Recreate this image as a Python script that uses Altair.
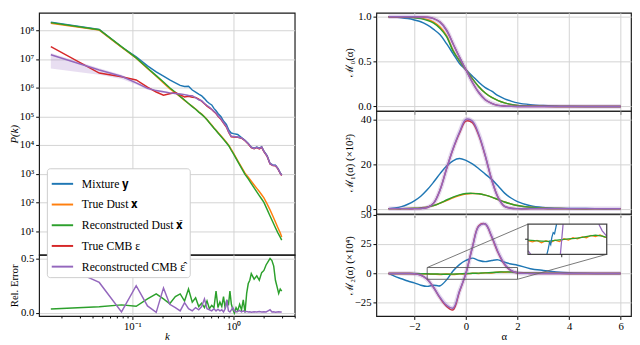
import altair as alt
import pandas as pd

FONT = "Liberation Serif"
BLUE, ORANGE, GREEN, RED, PURPLE = "#1f77b4", "#ff7f0e", "#2ca02c", "#d62728", "#9467bd"

# ---------------- left: power spectra ----------------
K = [0.0156, 0.047, 0.078, 0.109, 0.141, 0.172, 0.203, 0.234, 0.266, 0.297,
     0.328, 0.359, 0.391, 0.422, 0.453, 0.484, 0.516, 0.547, 0.578, 0.609,
     0.641, 0.672, 0.703, 0.75, 0.80, 0.85, 0.90, 0.95, 1.0, 1.1,
     1.2, 1.3, 1.4, 1.5, 1.6, 1.7, 1.8, 1.9, 2.0, 2.15,
     2.3, 2.45, 2.6, 2.75, 2.9, 3.0]
# log10 P(k)
LOG_MIX = [8.28, 8.03, 7.42, 7.08, 6.76, 6.55, 6.40, 6.27, 6.17, 6.08,
           6.04, 6.05, 5.92, 5.85, 5.78, 5.72, 5.62, 5.52, 5.45, 5.40,
           5.28, 5.20, 5.10, 5.00, 4.83, 4.72, 4.52, 4.42, 4.40, 4.37,
           4.26, 4.17, 4.06, 3.93, 3.89, 3.93, 3.89, 3.94, 3.79, 3.63,
           3.36, 3.31, 3.30, 3.19, 3.03, 2.96]
LOG_DUST = [8.25, 8.01, 7.41, 7.03, 6.67, 6.40, 6.17, 5.97, 5.82, 5.69,
            5.56, 5.45, 5.35, 5.26, 5.16, 5.08, 4.99, 4.89, 4.79, 4.70,
            4.60, 4.52, 4.44, 4.33, 4.21, 4.10, 3.99, 3.85, 3.72, 3.46,
            3.23, 3.02, 2.88, 2.74, 2.61, 2.49, 2.38, 2.27, 2.16, 1.95,
            1.74, 1.53, 1.32, 1.12, 0.94, 0.80]
LOG_DUST_REC = [8.27, 8.02, 7.43, 7.04, 6.69, 6.42, 6.20, 6.00, 5.84, 5.70,
                5.57, 5.45, 5.34, 5.25, 5.15, 5.07, 4.98, 4.88, 4.78, 4.68,
                4.59, 4.51, 4.42, 4.31, 4.19, 4.08, 3.97, 3.82, 3.69, 3.43,
                3.20, 2.98, 2.82, 2.66, 2.51, 2.37, 2.24, 2.12, 2.00, 1.76,
                1.53, 1.32, 1.12, 0.94, 0.79, 0.69]
LOG_CMB = [7.43, 6.51, 6.38, 6.27, 6.02, 5.85, 5.74, 5.79, 5.83, 5.75,
           5.68, 5.70, 5.67, 5.66, 5.60, 5.53, 5.44, 5.36, 5.30, 5.24,
           5.16, 5.10, 5.00, 4.90, 4.76, 4.63, 4.43, 4.29, 4.28, 4.27,
           4.24, 4.15, 4.04, 3.91, 3.87, 3.91, 3.87, 3.92, 3.77, 3.61,
           3.34, 3.29, 3.28, 3.17, 3.01, 2.94]
LOG_CMB_REC = [7.15, 6.62, 6.40, 6.17, 5.98, 5.90, 5.86, 5.82, 5.80, 5.78,
               5.76, 5.73, 5.72, 5.65, 5.58, 5.55, 5.45, 5.38, 5.32, 5.25,
               5.18, 5.12, 5.02, 4.92, 4.78, 4.65, 4.45, 4.31, 4.30, 4.28,
               4.25, 4.16, 4.05, 3.92, 3.88, 3.92, 3.88, 3.93, 3.78, 3.62,
               3.35, 3.30, 3.29, 3.18, 3.02, 2.95]
# spread of the reconstructed CMB (dex below / above)
BAND_LO = [0.48, 0.17, 0.10, 0.06, 0.05, 0.04, 0.04, 0.04, 0.03, 0.03,
           0.03, 0.03, 0.03, 0.03, 0.03, 0.03, 0.03, 0.03, 0.03, 0.03,
           0.03, 0.03, 0.03, 0.03, 0.03, 0.03, 0.03, 0.03, 0.03, 0.03,
           0.03, 0.03, 0.03, 0.03, 0.03, 0.03, 0.03, 0.03, 0.03, 0.03,
           0.03, 0.03, 0.03, 0.03, 0.03, 0.03]
BAND_HI = [0.06, 0.06, 0.05, 0.04, 0.04, 0.03, 0.03, 0.03, 0.03, 0.03,
           0.03, 0.03, 0.03, 0.03, 0.03, 0.03, 0.03, 0.03, 0.03, 0.03,
           0.03, 0.03, 0.03, 0.03, 0.03, 0.03, 0.03, 0.03, 0.03, 0.03,
           0.03, 0.03, 0.03, 0.03, 0.03, 0.03, 0.03, 0.03, 0.03, 0.03,
           0.03, 0.03, 0.03, 0.03, 0.03, 0.03]

K_ERR = [0.0156, 0.047, 0.078, 0.109, 0.141, 0.172, 0.203, 0.234, 0.266, 0.297,
         0.328, 0.359, 0.391, 0.422, 0.453, 0.484, 0.516, 0.547, 0.578, 0.609,
         0.641, 0.672, 0.703, 0.734, 0.766, 0.797, 0.828, 0.859, 0.891, 0.922,
         0.953, 0.984, 1.02, 1.06, 1.1, 1.15, 1.2, 1.25, 1.3, 1.35,
         1.4, 1.45, 1.5, 1.6, 1.7, 1.8, 1.9, 2.0, 2.1, 2.2,
         2.3, 2.4, 2.5, 2.6, 2.7, 2.8, 2.9, 3.0]
ERR_DUST = [0.038, 0.058, 0.075, 0.062, 0.13, 0.175, 0.13, 0.085, 0.15, 0.175,
            0.11, 0.22, 0.10, 0.14, 0.06, 0.09, 0.05, 0.11, 0.04, 0.07,
            0.05, 0.20, 0.05, 0.10, 0.06, 0.15, 0.04, 0.12, 0.07, 0.20,
            0.08, 0.035, 0.0, 0.05, 0.02, 0.08, 0.03, 0.12, 0.005, 0.18,
            0.27, 0.30, 0.36, 0.31, 0.34, 0.30, 0.37, 0.39, 0.44, 0.47,
            0.50, 0.48, 0.43, 0.30, 0.24, 0.18, 0.22, 0.20]
ERR_CMB = [0.48, 0.28, 0.01, 0.25, 0.065, 0.006, 0.23, 0.08, 0.05, 0.02,
           0.095, 0.04, 0.02, 0.05, 0.03, 0.06, 0.13, 0.04, 0.03, 0.02,
           0.04, 0.02, 0.035, 0.02, 0.03, 0.01, 0.04, 0.12, 0.02, 0.01,
           0.03, 0.05, 0.02, 0.01, 0.015, 0.025, 0.01, 0.02, 0.01, 0.015,
           0.01, 0.012, 0.008, 0.012, 0.01, 0.015, 0.01, 0.012, 0.01, 0.02,
           0.03, 0.01, 0.012, 0.008, 0.01, 0.012, 0.01, 0.01]

NAMES = ["Mixture 𝐲", "True Dust 𝐱", "Reconstructed Dust 𝐱̂",
         "True CMB ε", "Reconstructed CMB ε̂"]
COLORS = [BLUE, ORANGE, GREEN, RED, PURPLE]

# ---------------- right: moments ----------------
A = [-3, -2.75, -2.5, -2.25, -2, -1.75, -1.5, -1.25, -1, -0.75, -0.5, -0.25, 0,
     0.25, 0.5, 0.75, 1, 1.25, 1.5, 1.75, 2, 2.5, 3, 3.5, 4, 5, 6]
M0_MIX = [1.0, 0.995, 0.99, 0.98, 0.965, 0.945, 0.91, 0.86, 0.80, 0.70, 0.59, 0.48, 0.41,
          0.34, 0.27, 0.21, 0.17, 0.12, 0.085, 0.06, 0.04, 0.02, 0.01, 0.005, 0.002, 0.0, 0.0]
M0_DUST = [1.0, 1.0, 0.999, 0.997, 0.993, 0.985, 0.97, 0.94, 0.885, 0.79, 0.63, 0.51, 0.41,
           0.31, 0.22, 0.15, 0.10, 0.065, 0.04, 0.022, 0.012, 0.004, 0.001, 0.0, 0.0, 0.0, 0.0]
M0_DUST_REC = [1.0, 1.0, 0.998, 0.995, 0.99, 0.98, 0.96, 0.93, 0.87, 0.78, 0.62, 0.51, 0.41,
               0.31, 0.22, 0.15, 0.10, 0.065, 0.04, 0.022, 0.012, 0.004, 0.001, 0.0, 0.0, 0.0, 0.0]
M0_CMB = [1.0, 1.0, 1.0, 1.0, 1.0, 0.998, 0.995, 0.98, 0.94, 0.85, 0.70, 0.55, 0.41,
          0.27, 0.155, 0.075, 0.035, 0.012, 0.004, 0.001, 0.0, 0.0, 0.0, 0.0, 0.0, 0.0, 0.0]
M0_CMB_REC = [1.0, 1.0, 1.0, 1.0, 1.0, 0.998, 0.995, 0.98, 0.94, 0.85, 0.70, 0.55, 0.41,
              0.27, 0.155, 0.075, 0.035, 0.012, 0.004, 0.001, 0.0, 0.0, 0.0, 0.0, 0.0, 0.0, 0.0]

M1_MIX = [0.0, 0.3, 0.9, 2.0, 3.5, 5.6, 8.5, 12.0, 15.8, 19.2, 21.6, 22.6, 21.8,
          20.2, 18.0, 15.6, 13.2, 10.2, 7.0, 4.8, 3.2, 1.3, 0.5, 0.2, 0.1, 0.0, 0.0]
M1_DUST = [0.0, 0.0, 0.0, 0.05, 0.15, 0.35, 0.7, 1.4, 2.5, 3.6, 4.9, 5.9, 6.6,
           6.8, 6.7, 6.1, 5.2, 4.1, 3.0, 2.1, 1.4, 0.6, 0.2, 0.05, 0.0, 0.0, 0.0]
M1_DUST_REC = [0.0, 0.0, 0.0, 0.05, 0.15, 0.35, 0.7, 1.4, 2.5, 3.9, 5.2, 6.2, 6.8,
               6.9, 6.7, 6.1, 5.2, 4.1, 3.0, 2.1, 1.4, 0.6, 0.2, 0.05, 0.0, 0.0, 0.0]
M1_CMB = [0.0, 0.0, 0.0, 0.0, 0.0, 0.1, 0.5, 2.5, 8.5, 18.0, 26.8, 34.0, 39.5,
          38.8, 33.0, 23.8, 13.0, 5.0, 1.0, 0.2, 0.0, 0.0, 0.0, 0.0, 0.0, 0.0, 0.0]
M1_CMB_REC = [0.0, 0.0, 0.0, 0.0, 0.0, 0.1, 0.5, 2.5, 8.5, 18.0, 27.0, 34.5, 40.3,
              39.5, 33.5, 24.0, 13.0, 5.0, 1.0, 0.2, 0.0, 0.0, 0.0, 0.0, 0.0, 0.0, 0.0]

M2_MIX = [0.0, -2.5, -4.5, -6.5, -8.0, -10.0, -11.0, -10.0, -10.5, -5.5, 2.0, 7.5, 11.0,
          13.0, 11.0, 10.0, 11.0, 11.5, 9.5, 8.0, 7.0, 4.0, 2.5, 1.3, 0.5, 0.0, 0.0]
M2_DUST = [0.0, 0.0, -0.05, -0.1, -0.2, -0.3, -0.5, -0.7, -0.9, -0.5, -1.0, -0.3, -0.6,
           0.2, 0.0, 0.5, 0.4, 1.3, 1.0, 1.3, 0.6, 0.4, 0.2, 0.05, 0.0, 0.0, 0.0]
M2_DUST_REC = [0.0, 0.0, -0.05, -0.1, -0.15, -0.25, -0.35, -0.5, -0.6, -0.7, -0.6, -0.4, -0.1,
               0.05, 0.25, 0.45, 0.7, 1.0, 1.3, 1.15, 0.8, 0.4, 0.2, 0.05, 0.0, 0.0, 0.0]
M2_CMB = [0.0, 0.0, 0.0, -0.1, -0.3, -1.5, -5.0, -12.0, -21.0, -28.0, -31.0, -15.5, 0.0,
          22.0, 40.5, 42.0, 31.0, 17.5, 7.5, 2.3, 0.5, 0.0, 0.0, 0.0, 0.0, 0.0, 0.0]
M2_CMB_REC = [0.0, 0.0, 0.0, -0.1, -0.3, -1.5, -5.0, -12.0, -20.5, -27.0, -29.5, -15.0, 0.0,
              22.0, 40.0, 42.0, 31.5, 18.0, 8.0, 2.5, 0.5, 0.0, 0.0, 0.0, 0.0, 0.0, 0.0]

# inset (zoom of M2 on alpha in [-1.5, 2], values in [-5, 5])
ZOOM_BOX = {"a0": [-1.5], "a1": [2.0], "v0": [-5.0], "v1": [5.0]}
INSET_GREEN_A = [-1.5, -1.2, -0.9, -0.6, -0.3, 0.0, 0.3, 0.6, 0.9, 1.2, 1.5, 1.8, 2.0]
INSET_GREEN_V = [-0.3, -0.5, -0.6, -0.7, -0.4, -0.1, 0.1, 0.3, 0.6, 1.0, 1.35, 1.0, 0.6]
INSET_ORANGE_A = [-1.5, -1.3, -1.1, -0.9, -0.7, -0.5, -0.3, -0.1, 0.1, 0.3, 0.5, 0.7, 0.9,
                  1.1, 1.3, 1.5, 1.7, 1.9, 2.0]
INSET_ORANGE_V = [-0.5, -0.9, -0.4, -1.2, -0.5, -1.1, -0.3, -0.8, 0.2, -0.3, 0.5, 0.1, 0.8,
                  0.5, 1.3, 0.9, 1.4, 0.7, 0.6]
INSET_BLUE_A = [-0.66, -0.6, -0.54, -0.49, -0.44, -0.38, -0.32, -0.23]
INSET_BLUE_V = [-5.0, -3.2, -1.0, -1.8, 0.6, 2.2, 1.8, 5.0]
INSET_PURPLE_A = [-1.5, -1.38, -0.06, 0.0, 0.06, 1.65, 1.8, 2.0]
INSET_PURPLE_V = [-3.8, -5.0, -5.0, 0.0, 5.0, 5.0, 2.8, 1.0]
INSET_PURPLE_SEG = [0, 0, 1, 1, 1, 2, 2, 2]

# ---------------- layout constants ----------------
LW, RW = 263, 262
LH_TOP, LH_BOT = 249, 63
RH = [101, 106, 105]
INSET_PX = (156, 237, 10.5, 41.5)   # x0, x1, y0, y1 inside the M2 panel
E_L, E_R = 18, 20

LOG_TEST = "abs(log(datum.value)/LN10 - round(log(datum.value)/LN10)) < 0.01"
LOG_LABEL = ("(" + LOG_TEST + ") ? ('10' + (round(log(datum.value)/LN10) < 0 ? '⁻' : '') + "
             "['⁰','¹','²','³','⁴','⁵','⁶','⁷','⁸','⁹'][abs(round(log(datum.value)/LN10))]) : ''")
MINUS = "replace(datum.label, '-', '−')"

# ---------- left top ----------
rows = []
for name, vals in zip(NAMES, [LOG_MIX, LOG_DUST, LOG_DUST_REC, LOG_CMB, LOG_CMB_REC]):
    for k, v in zip(K, vals):
        rows.append({"k": k, "P": 10 ** v, "s": name})
df_ps = pd.DataFrame(rows)
df_band = pd.DataFrame({"k": K,
                        "lo": [10 ** (v - d) for v, d in zip(LOG_CMB_REC, BAND_LO)],
                        "hi": [10 ** (v + d) for v, d in zip(LOG_CMB_REC, BAND_HI)]})

xk_scale = alt.Scale(type="log", domain=[0.01194, 4.035], nice=False)
yP_scale = alt.Scale(type="log", domain=[1.5, 4.1e8], nice=False)
DEC_TICKS = [1e1, 1e2, 1e3, 1e4, 1e5, 1e6, 1e7, 1e8]
x_top_axis = alt.Axis(values=[0.1, 1.0], labels=False, ticks=False, title=None, grid=True)
y_top_axis = alt.Axis(values=DEC_TICKS, labelExpr=LOG_LABEL, title="P(k)", titleFontStyle="italic",
                      grid=True, minExtent=E_L, maxExtent=E_L, titlePadding=2, labelPadding=2)

band = alt.Chart(df_band).mark_area(color=PURPLE, opacity=0.22).encode(
    x=alt.X("k:Q", scale=xk_scale, axis=x_top_axis),
    y=alt.Y("lo:Q", scale=yP_scale, axis=y_top_axis),
    y2="hi:Q")
ps_lines = alt.Chart(df_ps).mark_line(strokeWidth=1.5).encode(
    x=alt.X("k:Q", scale=xk_scale, axis=x_top_axis),
    y=alt.Y("P:Q", scale=yP_scale, axis=y_top_axis),
    color=alt.Color("s:N", scale=alt.Scale(domain=NAMES, range=COLORS), sort=NAMES,
                    legend=alt.Legend(title=None, orient="none", legendX=8, legendY=160,
                                      symbolType="stroke", symbolSize=484, symbolStrokeWidth=2,
                                      labelFontSize=12, labelFont=FONT, labelLimit=300,
                                      labelOffset=8,
                                      fillColor="white", strokeColor="#cccccc", cornerRadius=3,
                                      padding=4, rowPadding=3.3)))
left_top = alt.layer(band, ps_lines).properties(width=LW, height=LH_TOP)

# ---------- left bottom ----------
df_err = pd.concat([
    pd.DataFrame({"k": K_ERR, "e": ERR_DUST, "s": "dust"}),
    pd.DataFrame({"k": K_ERR, "e": ERR_CMB, "s": "cmb"})])
MINOR = [0.02, 0.03, 0.04, 0.05, 0.06, 0.07, 0.08, 0.09, 0.1, 0.2, 0.3, 0.4, 0.5, 0.6,
         0.7, 0.8, 0.9, 1.0, 2.0, 3.0, 4.0]
x_bot_axis = alt.Axis(values=MINOR, labelExpr=LOG_LABEL, title="k", titleFontStyle="italic",
                      grid=True, labelPadding=1, titlePadding=0,
                      tickSize={"condition": {"test": LOG_TEST, "value": 3.5}, "value": 2},
                      gridOpacity={"condition": {"test": LOG_TEST, "value": 1}, "value": 0})
y_bot_axis = alt.Axis(values=[0.0, 0.5], format=".1f", title="Rel. Error", grid=True,
                      minExtent=E_L, maxExtent=E_L, titlePadding=2, labelPadding=2)
err_scale_y = alt.Scale(domain=[-0.027, 0.533], nice=False, zero=False)
err_g = alt.Chart(df_err[df_err.s == "dust"]).mark_line(color=GREEN, strokeWidth=1.5).encode(
    x=alt.X("k:Q", scale=xk_scale, axis=x_bot_axis),
    y=alt.Y("e:Q", scale=err_scale_y, axis=y_bot_axis))
err_p = alt.Chart(df_err[df_err.s == "cmb"]).mark_line(color=PURPLE, strokeWidth=1.5).encode(
    x=alt.X("k:Q", scale=xk_scale, axis=x_bot_axis),
    y=alt.Y("e:Q", scale=err_scale_y, axis=y_bot_axis))
left_bot = alt.layer(err_g, err_p).properties(width=LW, height=LH_BOT)

left = alt.vconcat(left_top, left_bot, spacing=0, bounds="flush")

# ---------- right panels ----------
xa_scale = alt.Scale(domain=[-3.47, 6.4], nice=False, zero=False)


def x_axis(bottom):
    if bottom:
        return alt.Axis(values=[-2, 0, 2, 4, 6], labelExpr=MINUS, title="α", grid=True,
                        labelPadding=1, titlePadding=0)
    return alt.Axis(values=[-2, 0, 2, 4, 6], labels=False, title=None, grid=True)


def moment_layers(series, ydom, yvals, ytitle, fmt, bottom):
    ysc = alt.Scale(domain=ydom, nice=False, zero=False)
    yax = alt.Axis(values=yvals, format=fmt, labelExpr=MINUS, title=ytitle, grid=True,
                   minExtent=E_R, maxExtent=E_R, titlePadding=3, labelPadding=2)
    xax = x_axis(bottom)
    out = []
    for vals, color in series:
        d = pd.DataFrame({"a": A, "v": vals})
        if color == PURPLE:
            out.append(alt.Chart(d).mark_line(color=PURPLE, strokeWidth=4.5, opacity=0.25,
                                              interpolate="catmull-rom").encode(
                x=alt.X("a:Q", scale=xa_scale, axis=xax), y=alt.Y("v:Q", scale=ysc, axis=yax)))
        out.append(alt.Chart(d).mark_line(color=color, strokeWidth=1.5,
                                          interpolate="catmull-rom").encode(
            x=alt.X("a:Q", scale=xa_scale, axis=xax), y=alt.Y("v:Q", scale=ysc, axis=yax)))
    return out, ysc, xax, yax


s0 = [(M0_MIX, BLUE), (M0_DUST, ORANGE), (M0_DUST_REC, GREEN), (M0_CMB, RED), (M0_CMB_REC, PURPLE)]
s1 = [(M1_MIX, BLUE), (M1_DUST, ORANGE), (M1_DUST_REC, GREEN), (M1_CMB, RED), (M1_CMB_REC, PURPLE)]
s2 = [(M2_MIX, BLUE), (M2_DUST, ORANGE), (M2_DUST_REC, GREEN), (M2_CMB, RED), (M2_CMB_REC, PURPLE)]

l0, _, _, _ = moment_layers(s0, [-0.05, 1.045], [0.0, 0.5, 1.0], "ℳ₀(α)", ".1f", False)
l1, _, _, _ = moment_layers(s1, [-2.4, 44.1], [0, 20, 40], "ℳ₁(α) (×10²)", "d", False)
l2, ysc2, xax2, yax2 = moment_layers(s2, [-36.2, 50.5], [-25, 0, 25, 50], "ℳ₂(α) (×10⁴)", "d", True)

p0 = alt.layer(*l0).properties(width=RW, height=RH[0])
p1 = alt.layer(*l1).properties(width=RW, height=RH[1])

box_df = pd.DataFrame(ZOOM_BOX)
zoom_rect = alt.Chart(box_df).mark_rect(fillOpacity=0, stroke="#555555", strokeWidth=0.9).encode(
    x=alt.X("a0:Q", scale=xa_scale, axis=xax2), x2="a1:Q",
    y=alt.Y("v0:Q", scale=ysc2, axis=yax2), y2="v1:Q")
conn1 = alt.Chart(box_df).mark_rule(color="#666666", strokeWidth=0.9).encode(
    x=alt.X("a0:Q", scale=xa_scale, axis=xax2), y=alt.Y("v1:Q", scale=ysc2, axis=yax2),
    x2=alt.value(INSET_PX[0]), y2=alt.value(INSET_PX[2]))
conn2 = alt.Chart(box_df).mark_rule(color="#666666", strokeWidth=0.9).encode(
    x=alt.X("a1:Q", scale=xa_scale, axis=xax2), y=alt.Y("v0:Q", scale=ysc2, axis=yax2),
    x2=alt.value(INSET_PX[1]), y2=alt.value(INSET_PX[3]))
main2 = alt.layer(*l2, zoom_rect, conn1, conn2)

ix = alt.Scale(domain=[-1.5, 2.0], range=[INSET_PX[0], INSET_PX[1]], nice=False, zero=False)
iy = alt.Scale(domain=[-5, 5], range=[INSET_PX[3], INSET_PX[2]], nice=False, zero=False)
one = pd.DataFrame({"a": [0.0], "v": [0.0]})
inset_bg = alt.Chart(one).mark_rect(fill="white").encode(
    x=alt.value(INSET_PX[0]), x2=alt.value(INSET_PX[1]),
    y=alt.value(INSET_PX[2]), y2=alt.value(INSET_PX[3]))


def inset_line(a, v, color, seg=None):
    d = pd.DataFrame({"a": a, "v": v, "g": seg if seg is not None else [0] * len(a)})
    return alt.Chart(d).mark_line(color=color, strokeWidth=1.3).encode(
        x=alt.X("a:Q", scale=ix, axis=None), y=alt.Y("v:Q", scale=iy, axis=None),
        detail="g:N")


inset_frame = alt.Chart(one).mark_rect(fillOpacity=0, stroke="#444444", strokeWidth=1.3).encode(
    x=alt.value(INSET_PX[0]), x2=alt.value(INSET_PX[1]),
    y=alt.value(INSET_PX[2]), y2=alt.value(INSET_PX[3]))
tick_x = alt.Chart(one).mark_rule(color="#222222", strokeWidth=1).encode(
    x=alt.X("a:Q", scale=ix, axis=None), y=alt.value(INSET_PX[3]), y2=alt.value(INSET_PX[3] + 3))
tick_y = alt.Chart(one).mark_rule(color="#222222", strokeWidth=1).encode(
    y=alt.Y("v:Q", scale=iy, axis=None), x=alt.value(INSET_PX[0] - 3), x2=alt.value(INSET_PX[0]))
inset = alt.layer(
    inset_bg,
    inset_line(INSET_ORANGE_A, INSET_ORANGE_V, ORANGE),
    inset_line(INSET_GREEN_A, INSET_GREEN_V, GREEN),
    inset_line(INSET_BLUE_A, INSET_BLUE_V, BLUE),
    inset_line(INSET_PURPLE_A, INSET_PURPLE_V, PURPLE, INSET_PURPLE_SEG),
    inset_frame, tick_x, tick_y)

p2 = alt.layer(main2, inset).resolve_scale(x="independent", y="independent").properties(
    width=RW, height=RH[2])

right = alt.vconcat(p0, p1, p2, spacing=0, bounds="flush")

chart = alt.hconcat(left, right, spacing=47).properties(
    padding={"left": 0, "top": -6, "right": 0, "bottom": 0}
).configure_view(stroke="#1a1a1a", strokeWidth=1.2).configure_axis(
    labelFont=FONT, titleFont=FONT, labelFontSize=11, titleFontSize=11,
    labelColor="black", titleColor="black", titleFontWeight="normal",
    tickColor="black", tickSize=3.5, domain=False, gridColor="#d3d3d3", gridWidth=1
).configure_legend(labelFont=FONT, labelColor="black")

chart.save("out.html", embed_options={"renderer": "svg", "actions": False})
